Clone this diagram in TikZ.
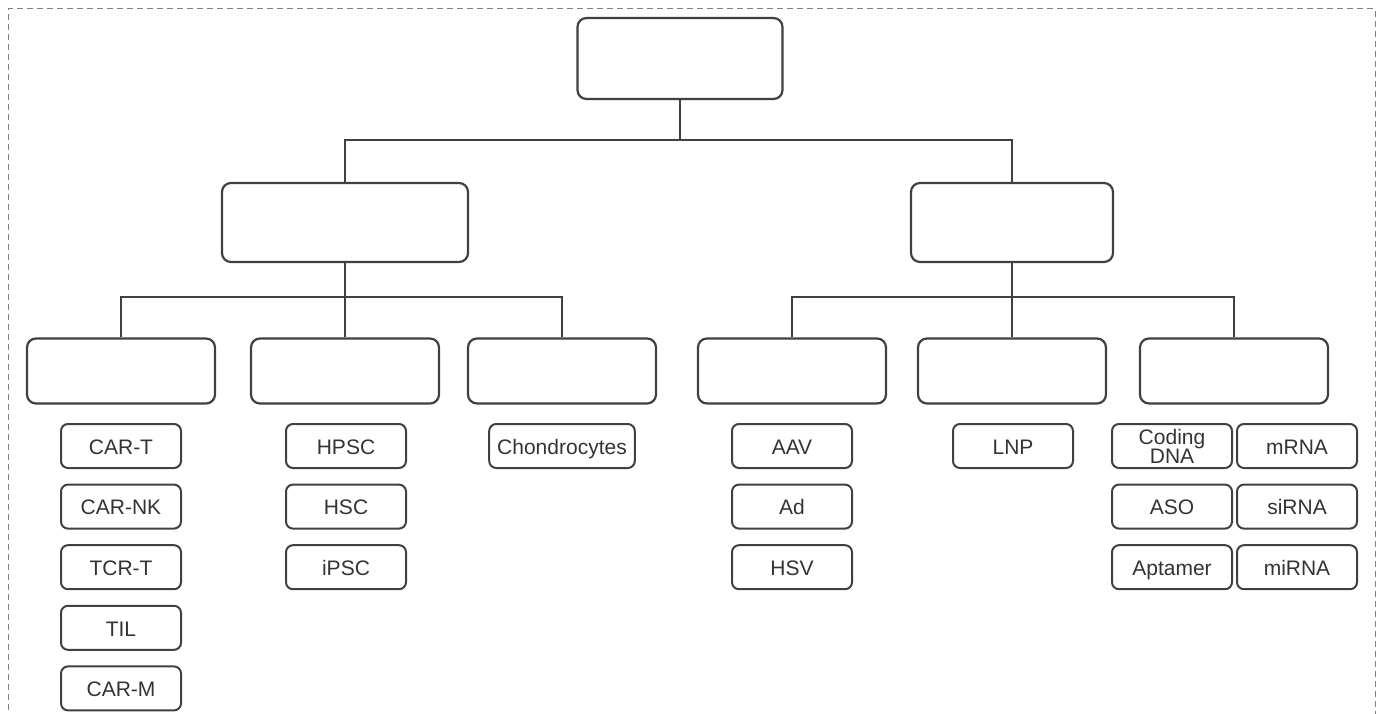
\documentclass[tikz,border=0pt]{standalone}
\usepackage{fontspec}
\setmainfont{Liberation Sans}
\usetikzlibrary{positioning}
\definecolor{linegray}{HTML}{404040}
\definecolor{textgray}{HTML}{333333}
\definecolor{dashgray}{HTML}{808080}

\begin{document}
\begin{tikzpicture}[x=1pt,y=-1pt,node distance=60.6pt,on grid,
    box/.style={draw=linegray,line width=2.2pt,rounded corners=9pt,inner sep=0pt},
    leaf/.style={draw=linegray,line width=2pt,rounded corners=7pt,minimum width=120pt,
      minimum height=44pt,inner xsep=8pt,inner ysep=0pt,align=center,text=textgray,
      text height=16.5pt,text depth=0pt,font=\fontsize{21}{19}\selectfont},
    link/.style={draw=linegray,line width=2.2pt}]
  \useasboundingbox (0,0) rectangle (1386,714);
  \draw[dashgray,line width=1pt,dash pattern=on 6pt off 4pt] (8,730) |- (1375,9) -- (1375,730);

  % tree of empty boxes
  \node[box,minimum width=205pt,minimum height=81pt] (root) at (680,58.5) {};
  \node[box,minimum width=246pt,minimum height=79pt] (cell) at (345,222.5) {};
  \node[box,minimum width=202pt,minimum height=79pt] (gene) at (1012,222.5) {};
  \foreach \i/\x in {1/121,2/345,3/562,4/792,5/1012,6/1234}
    \node[box,minimum width=188pt,minimum height=65pt] (k\i) at (\x,371) {};

  \coordinate (busA) at (680,140);
  \coordinate (busB) at (345,297);
  \coordinate (busC) at (1012,297);
  \path[link] (root) -- (busA)
    (cell.north) |- (busA) -| (gene.north)
    (cell) -- (busB)
    (k1.north) |- (busB) -| (k3.north) (k2.north) -- (busB)
    (gene) -- (busC)
    (k4.north) |- (busC) -| (k6.north) (k5.north) -- (busC);

  % leaves
  \node[leaf] (cart) at (121,446) {CAR-T};
  \node[leaf,below=of cart] (carnk) {CAR-NK};
  \node[leaf,below=of carnk] (tcrt) {TCR-T};
  \node[leaf,below=of tcrt] (til) {TIL};
  \node[leaf,below=of til] (carm) {CAR-M};

  \node[leaf] (hpsc) at (346,446) {HPSC};
  \node[leaf,below=of hpsc] (hsc) {HSC};
  \node[leaf,below=of hsc] (ipsc) {iPSC};

  \node[leaf] (chondro) at (562,446) {Chondrocytes};

  \node[leaf] (aav) at (792,446) {AAV};
  \node[leaf,below=of aav] (ad) {Ad};
  \node[leaf,below=of ad] (hsv) {HSV};

  \node[leaf] (lnp) at (1013,446) {LNP};

  \node[leaf,text height=,text depth=] (cdna) at (1172,446) {Coding\\DNA};
  \node[leaf,below=of cdna] (aso) {ASO};
  \node[leaf,below=of aso] (aptamer) {Aptamer};
  \node[leaf] (mrna) at (1297,446) {mRNA};
  \node[leaf,below=of mrna] (sirna) {siRNA};
  \node[leaf,below=of sirna] (mirna) {miRNA};
\end{tikzpicture}
\end{document}
